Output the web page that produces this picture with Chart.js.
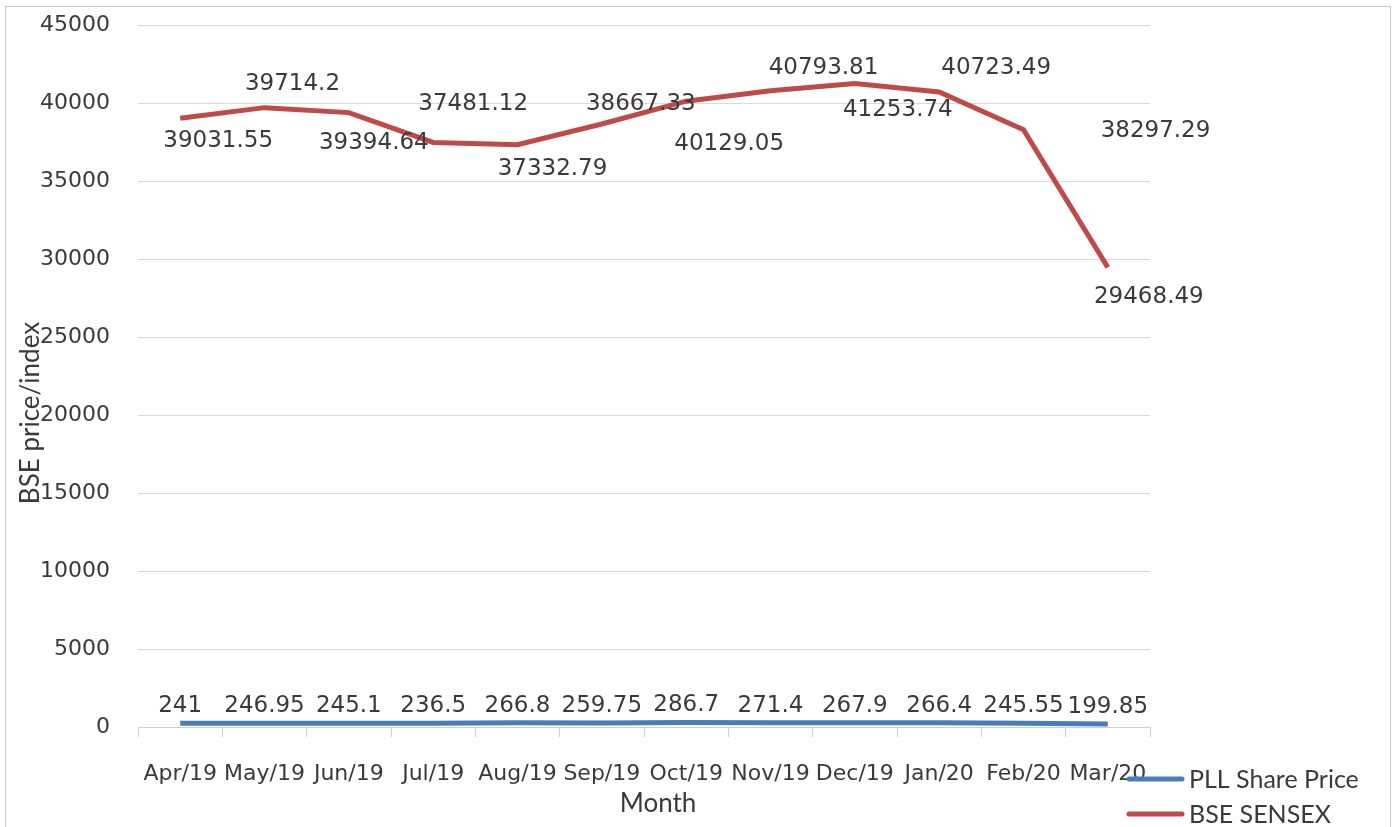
<!DOCTYPE html>
<html>
<head>
<meta charset="utf-8">
<script src="https://cdn.jsdelivr.net/npm/chart.js@4.4.0/dist/chart.umd.min.js"></script>
<style>
  html, body { margin: 0; padding: 0; background: #fff; }
  #wrap { position: relative; width: 1393px; height: 827px; overflow: hidden; }
  #frame { position: absolute; left: 5px; top: 6px; width: 1384px; height: 830px; border: 1px solid #c8c8c8; }
  canvas { position: absolute; left: 0; top: -16px; }
</style>
</head>
<body>
<div id="wrap">
  <div id="frame"></div>
  <canvas id="myChart" width="1393" height="843"></canvas>
</div>
<script>
// data
const months = ['Apr/19', 'May/19', 'Jun/19', 'Jul/19', 'Aug/19', 'Sep/19', 'Oct/19', 'Nov/19', 'Dec/19', 'Jan/20', 'Feb/20', 'Mar/20'];
const pll_price = [241, 246.95, 245.1, 236.5, 266.8, 259.75, 286.7, 271.4, 267.9, 266.4, 245.55, 199.85];
const bse_sensex = [39031.55, 39714.2, 39394.64, 37481.12, 37332.79, 38667.33, 40129.05, 40793.81, 41253.74, 40723.49, 38297.29, 29468.49];
const y_ticks = [0, 5000, 10000, 15000, 20000, 25000, 30000, 35000, 40000, 45000];

// where excel left the sensex labels, relative to the point
const bse_label_offsets = [[38, 23], [28, -24], [25, 30], [40, -38], [35, 24], [39, -20], [43, 43], [53, -23], [43, 26], [57, -24], [132, 1], [41, 30]];

const BLUE = '#4a7ebb';
const RED = '#be4b48';
const TEXT = '#3a3a3a';
const SHIFT = 16; // canvas sits 16px higher than the page

const labelPlugin = {
    id: 'labels',
    afterDatasetsDraw(chart)
    {
        const ctx = chart.ctx;
        ctx.save();
        ctx.fillStyle = TEXT;
        ctx.font = '23px "DejaVu Sans"';
        ctx.textAlign = 'center';
        ctx.textBaseline = 'middle';

        const pll_meta = chart.getDatasetMeta(0);
        pll_meta.data.forEach(function (pt, i) {
            ctx.fillText(String(pll_price[i]), pt.x, pt.y - 17);
        });

        const bse_meta = chart.getDatasetMeta(1);
        bse_meta.data.forEach(function (pt, i) {
            const off = bse_label_offsets[i];
            ctx.fillText(String(bse_sensex[i]), pt.x + off[0], pt.y + off[1]);
        });

        // axis titles
        ctx.font = '26px Lato';
        ctx.fillText('Month', 658, 804 + SHIFT);
        ctx.save();
        ctx.translate(31, 413 + SHIFT);
        ctx.rotate(-Math.PI / 2);
        ctx.fillText('BSE price/index', 0, 0);
        ctx.restore();

        // legend
        const legend = [['PLL Share Price', BLUE, 780], ['BSE SENSEX', RED, 815]];
        ctx.textAlign = 'left';
        ctx.font = '25px Lato';
        ctx.lineWidth = 5;
        ctx.lineCap = 'round';
        legend.forEach(function (item) {
            ctx.strokeStyle = item[1];
            ctx.beginPath();
            ctx.moveTo(1129, item[2] - 1 + SHIFT);
            ctx.lineTo(1182, item[2] - 1 + SHIFT);
            ctx.stroke();
            ctx.fillText(item[0], 1189, item[2] + SHIFT);
        });
        ctx.restore();
    }
};

const ctx = document.getElementById('myChart').getContext('2d');
const myChart = new Chart(ctx, {
    type: 'line',
    data: {
        labels: months,
        datasets: [
            {
                label: 'PLL Share Price',
                data: pll_price,
                borderColor: BLUE,
                borderWidth: 5,
                pointRadius: 0,
                tension: 0
            },
            {
                label: 'BSE SENSEX',
                data: bse_sensex,
                borderColor: RED,
                borderWidth: 5,
                pointRadius: 0,
                tension: 0
            }
        ]
    },
    plugins: [labelPlugin],
    options: {
        responsive: false,
        animation: false,
        layout: { padding: { left: 0, top: 0, right: 243, bottom: 0 } },
        plugins: {
            legend: { display: false },
            tooltip: { enabled: false }
        },
        scales: {
            x: {
                offset: true,
                grid: {
                    offset: true,
                    drawOnChartArea: false,
                    color: '#d0d0d0',
                    tickLength: 10
                },
                border: { color: '#d0d0d0' },
                ticks: {
                    autoSkip: false,
                    maxRotation: 0,
                    minRotation: 0,
                    color: TEXT,
                    font: { family: 'DejaVu Sans', size: 22 },
                    padding: 24
                },
                afterFit: function (axis) { axis.height = 100; }
            },
            y: {
                min: 0,
                max: 45000,
                afterBuildTicks: function (axis) {
                    axis.ticks = y_ticks.map(function (v) { return { value: v }; });
                },
                grid: {
                    color: '#d9d9d9',
                    drawTicks: false
                },
                border: { display: false },
                ticks: {
                    color: TEXT,
                    font: { family: 'DejaVu Sans', size: 22 },
                    padding: 28,
                    callback: function (v) { return String(v); }
                },
                afterFit: function (axis) { axis.width = 138; }
            }
        }
    }
});
</script>
</body>
</html>
